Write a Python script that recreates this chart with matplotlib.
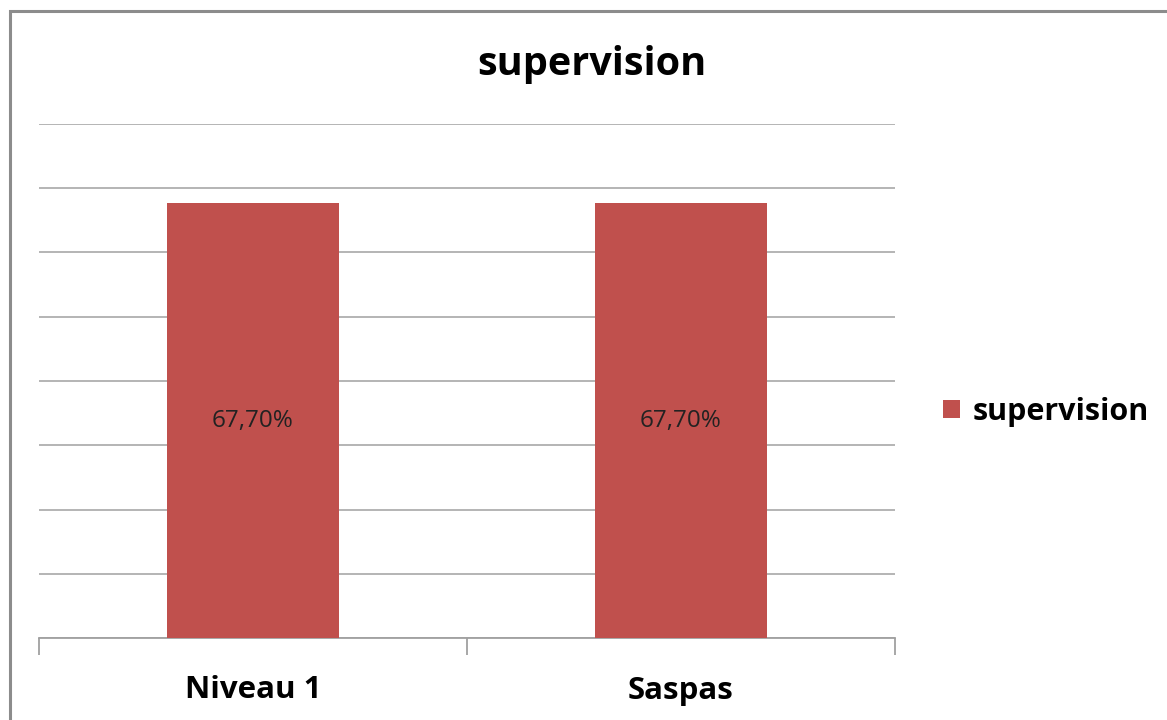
import matplotlib.pyplot as plt
from matplotlib.patches import Rectangle
import numpy as np

categories = ['Niveau 1', 'Saspas']
values = [0.677, 0.677]
value_labels = ['67,70%', '67,70%']
series_name = 'supervision'
title = 'supervision'

plt.rcParams['font.family'] = ['Open Sans', 'DejaVu Sans']

W, H = 1167, 720
fig = plt.figure(figsize=(W / 100, H / 100), dpi=100)

# outer chart frame (left and top edges visible)
fig.patches.append(Rectangle((10 / W, -0.1), 1.2, (H - 11) / H + 0.1,
                             transform=fig.transFigure, fill=False,
                             edgecolor='#8c8c8c', linewidth=2.2, zorder=0))

ax = fig.add_axes([39 / W, 1 - 638 / H, (895 - 39) / W, (638 - 124) / H])
x = np.arange(len(categories))
bars = ax.bar(x, values, width=0.4, color='#C0504D', label=series_name, zorder=3)

ax.set_xlim(-0.5, len(categories) - 0.5)
ax.set_ylim(0, 0.8)
ax.set_yticks(np.arange(0, 0.81, 0.1))
ax.yaxis.grid(True, color='#a0a0a0', linewidth=1.1)
ax.set_axisbelow(True)
ax.tick_params(axis='y', left=False, labelleft=False)

for s in ['top', 'right', 'left']:
    ax.spines[s].set_visible(False)
ax.spines['bottom'].set_color('#a0a0a0')
ax.spines['bottom'].set_linewidth(1.3)

ax.set_xticks(x)
ax.set_xticklabels(categories, fontsize=22.5, fontweight='bold')
ax.set_xticks([-0.5, 0.5, 1.5], minor=True)
ax.tick_params(axis='x', which='major', length=0, pad=27)
ax.tick_params(axis='x', which='minor', length=12, width=1.3, color='#a0a0a0')

for b, lab in zip(bars, value_labels):
    ax.text(b.get_x() + b.get_width() / 2, b.get_height() / 2, lab,
            ha='center', va='center', fontsize=17.5, color='#222222', zorder=4)

fig.text(592 / W, 1 - 64 / H, title, ha='center', va='center',
         fontsize=28.5, fontweight='bold')

fig.legend(handles=[bars], labels=[series_name], loc='center left',
           bbox_to_anchor=(922 / W, 1 - 412 / H), frameon=False,
           prop={'size': 22, 'weight': 'bold'}, handlelength=0.55,
           handleheight=0.55, handletextpad=0.4, borderpad=0.2)

fig.savefig('out.png', dpi=100)
